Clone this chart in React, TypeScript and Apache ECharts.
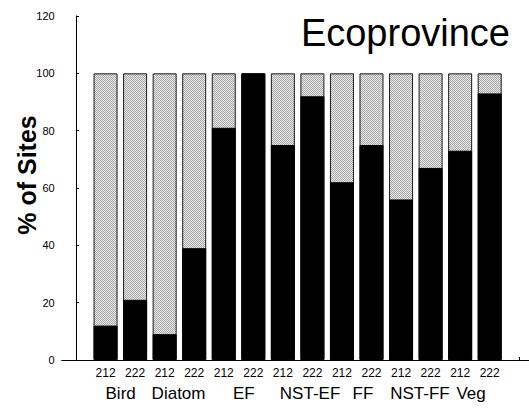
import React, { useEffect, useRef } from "react";
import * as echarts from "echarts";

const barPositions = [1, 2, 3, 4, 5, 6, 7, 8, 9, 10, 11, 12, 13, 14];
const subLabels = ["212", "222", "212", "222", "212", "222", "212", "222", "212", "222", "212", "222", "212", "222"];
const blackValues = [12, 21, 9, 39, 81, 100, 75, 92, 62, 75, 56, 67, 73, 93];
const totalValues = [100, 100, 100, 100, 100, 100, 100, 100, 100, 100, 100, 100, 100, 100];
const groupLabels = ["Bird", "Diatom", "EF", "NST-EF", "FF", "NST-FF", "Veg"];
const groupLabelPositions = [1.51, 3.47, 5.68, 7.92, 9.71, 11.64, 13.37];
const yTicks = [0, 20, 40, 60, 80, 100, 120];

const FONT = "'Liberation Sans', Arial, sans-serif";

export default function App() {
  const ref = useRef<HTMLDivElement>(null);

  useEffect(() => {
    if (!ref.current) return;
    const chart = echarts.init(ref.current, undefined, { renderer: "svg" });

    const cv = document.createElement("canvas");
    cv.width = 2;
    cv.height = 2;
    const ctx = cv.getContext("2d")!;
    ctx.fillStyle = "#e8e8e8";
    ctx.fillRect(0, 0, 2, 2);
    ctx.fillStyle = "#a8a8a8";
    ctx.fillRect(0, 0, 1, 1);
    ctx.fillRect(1, 1, 1, 1);

    const xMin = -0.484;
    const xMax = 15.33;

    chart.setOption({
      animation: false,
      backgroundColor: "#ffffff",
      grid: { left: 61.7, right: 0, top: 16, bottom: 49, containLabel: false },
      xAxis: [
        {
          type: "value",
          min: xMin,
          max: xMax,
          axisLine: { show: true, lineStyle: { color: "#000", width: 1 } },
          axisTick: { show: true, inside: true, length: 3, customValues: [0, 15], lineStyle: { color: "#000" } },
          splitLine: { show: false },
          axisLabel: {
            show: true,
            customValues: barPositions,
            margin: 7,
            fontSize: 12,
            fontFamily: FONT,
            color: "#000",
            formatter: (v: number) => {
              const i = barPositions.indexOf(Math.round(v));
              return i >= 0 ? subLabels[i] : "";
            },
          },
        },
        {
          type: "value",
          position: "bottom",
          min: xMin,
          max: xMax,
          axisLine: { show: false },
          axisTick: { show: false },
          splitLine: { show: false },
          axisLabel: {
            show: true,
            customValues: groupLabelPositions,
            margin: 25,
            fontSize: 17,
            fontFamily: FONT,
            color: "#000",
            formatter: (v: number) => {
              let best = 0;
              for (let i = 0; i < groupLabelPositions.length; i++) {
                if (Math.abs(groupLabelPositions[i] - v) < Math.abs(groupLabelPositions[best] - v)) best = i;
              }
              return groupLabels[best];
            },
          },
        },
      ],
      yAxis: {
        type: "value",
        min: 0,
        max: 120,
        interval: 20,
        axisLine: { show: true, lineStyle: { color: "#000", width: 1 } },
        axisTick: { show: true, inside: true, length: 3, lineStyle: { color: "#000" } },
        splitLine: { show: false },
        axisLabel: {
          margin: 7,
          fontSize: 11,
          fontFamily: FONT,
          color: "#000",
          customValues: yTicks,
        },
      },
      graphic: [
        {
          type: "text",
          x: 510,
          y: 33,
          style: {
            text: "Ecoprovince",
            font: `normal 38px ${FONT}`,
            fill: "#000",
            align: "right",
            verticalAlign: "middle",
          },
        },
        {
          type: "text",
          x: 27,
          y: 175,
          rotation: Math.PI / 2,
          style: {
            text: "% of Sites",
            font: `bold 25px ${FONT}`,
            fill: "#000",
            align: "center",
            verticalAlign: "middle",
          },
        },
      ],
      series: [
        {
          name: "other",
          type: "bar",
          xAxisIndex: 0,
          barWidth: 24,
          barGap: "-100%",
          data: barPositions.map((p, i) => [p, totalValues[i]]),
          itemStyle: {
            color: { image: cv, repeat: "repeat" },
            borderColor: "#1a1a1a",
            borderWidth: 1,
          },
          z: 2,
        },
        {
          name: "ecoprovince",
          type: "bar",
          xAxisIndex: 0,
          barWidth: 24,
          barGap: "-100%",
          data: barPositions.map((p, i) => [p, blackValues[i]]),
          itemStyle: { color: "#000", borderColor: "#000", borderWidth: 1 },
          z: 3,
        },
      ],
    });

    return () => chart.dispose();
  }, []);

  return <div ref={ref} style={{ width: 529, height: 409, position: "absolute", left: 0, top: 0 }} />;
}
